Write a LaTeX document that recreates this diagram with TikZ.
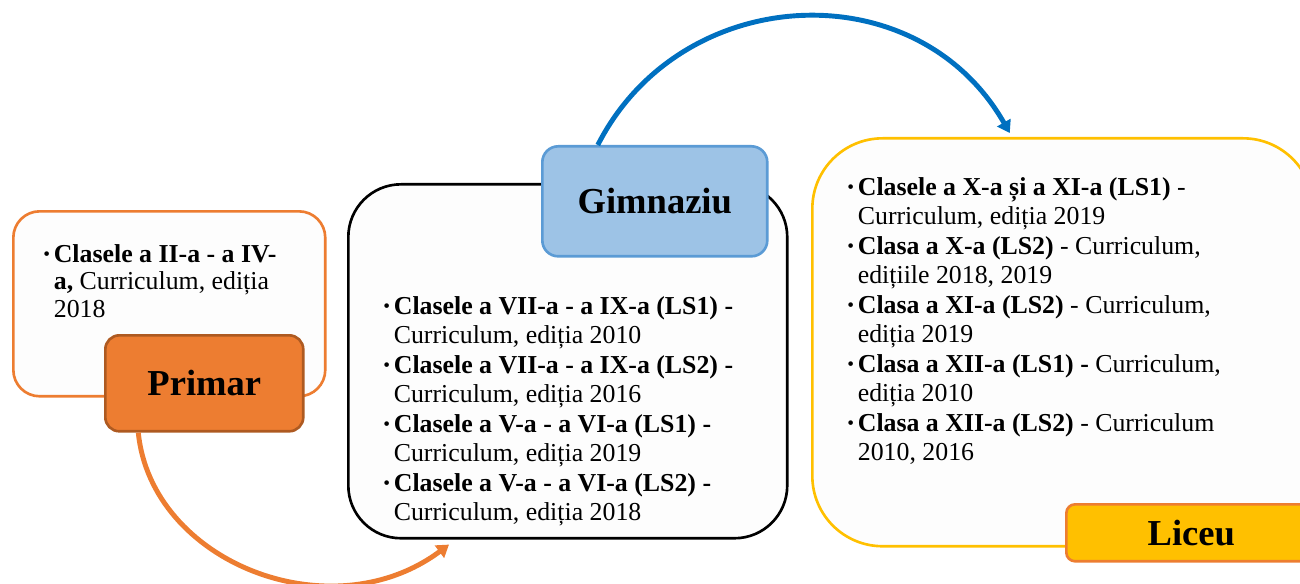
\documentclass[tikz,border=0pt]{standalone}
\usepackage{fontspec}
\setmainfont{Liberation Serif}
\usepackage{tikz}
\usetikzlibrary{arrows.meta, positioning, calc}
\definecolor{primorange}{RGB}{237,125,49}
\definecolor{primdark}{RGB}{174,90,33}
\definecolor{gimblue}{RGB}{157,195,230}
\definecolor{gimedge}{RGB}{91,155,213}
\definecolor{licgold}{RGB}{255,192,0}
\definecolor{arrowblue}{RGB}{0,112,192}
\definecolor{boxfill}{RGB}{253,253,253}
\newcommand{\bul}{\makebox[0.21cm][l]{\raisebox{1pt}{\fontsize{11}{11}\selectfont\textbullet}}}
\newcommand{\ind}{\hspace*{0.21cm}}

\begin{document}
\begin{tikzpicture}[x=0.02cm, y=-0.02cm,
    levelbox/.style={draw, line width=1.5pt, fill=boxfill, anchor=north west, inner sep=0pt},
    levellabel/.style={draw, line width=1.5pt, anchor=north west, inner sep=0pt,
        font=\fontsize{20.8}{24}\selectfont\bfseries},
    itemtext/.style={anchor=north west, inner sep=0pt, align=left},
    flowarrow/.style={line width=2.8pt, -{Triangle[length=0.24cm, width=0.3cm]}}]
    \useasboundingbox (0,0) rectangle (1300,584);

    % Primar
    \node[levelbox, draw=primorange, rounded corners=15pt,
          minimum width=6.24cm, minimum height=3.7cm] (primbox) at (12,210) {};
    \node[itemtext, font=\fontsize{14.7}{15.6}\selectfont] (primtext) at (43,244) {%
        \bul\textbf{Clasele a II-a - a IV-}\\
        \ind\textbf{a,} Curriculum, ediția\\
        \ind 2018};
    \node[levellabel, draw=primdark, fill=primorange, rounded corners=8pt,
          minimum width=3.96cm, minimum height=1.92cm] (primlbl) at (104,334) {Primar};

    % Gimnaziu
    \node[levelbox, draw=black, rounded corners=30pt,
          minimum width=8.78cm, minimum height=7.08cm] (gimbox) at (347,183) {};
    \node[itemtext, font=\fontsize{14.7}{16.8}\selectfont] (gimtext) at (383,296) {%
        \bul\textbf{Clasele a VII-a - a IX-a (LS1) -}\\
        \ind Curriculum, ediția 2010\\
        \bul\textbf{Clasele a VII-a - a IX-a (LS2) -}\\
        \ind Curriculum, ediția 2016\\
        \bul\textbf{Clasele a V-a - a VI-a (LS1) -}\\
        \ind Curriculum, ediția 2019\\
        \bul\textbf{Clasele a V-a - a VI-a (LS2) -}\\
        \ind Curriculum, ediția 2018};
    \node[levellabel, draw=gimedge, fill=gimblue, rounded corners=9pt,
          minimum width=4.5cm, minimum height=2.2cm] (gimlbl) at (541,145) {Gimnaziu};

    % Liceu
    \node[levelbox, draw=licgold, rounded corners=40pt,
          minimum width=10.02cm, minimum height=8.16cm] (licbox) at (811,137) {};
    \node[itemtext, font=\fontsize{14.7}{16.8}\selectfont] (lictext) at (847,177) {%
        \bul\textbf{Clasele a X-a și a XI-a (LS1)} -\\
        \ind Curriculum, ediția 2019\\
        \bul\textbf{Clasa a X-a (LS2)} - Curriculum,\\
        \ind edițiile 2018, 2019\\
        \bul\textbf{Clasa a XI-a (LS2)} - Curriculum,\\
        \ind ediția 2019\\
        \bul\textbf{Clasa a XII-a (LS1) -} Curriculum,\\
        \ind ediția 2010\\
        \bul\textbf{Clasa a XII-a (LS2)} - Curriculum\\
        \ind 2010, 2016};
    \node[levellabel, draw=primorange, fill=licgold, rounded corners=5pt,
          minimum width=5cm, minimum height=1.14cm] (liclbl) at (1065,503) {Liceu};

    % arrows between levels
    \coordinate (orangestart) at ($(primlbl.south)+(-66,0)$);
    \coordinate (orangeend) at ($(gimbox.south west)+(102,5)$);
    \draw[flowarrow, primorange] (orangestart)
        .. controls ($(orangestart)+(13,130)$) and ($(orangeend)+(-118,88)$) .. (orangeend);
    \coordinate (bluestart) at ($(gimlbl.north)+(-57,0)$);
    \coordinate (blueend) at ($(licbox.north)+(-53,-4)$);
    \draw[flowarrow, arrowblue] (bluestart)
        .. controls ($(bluestart)+(83,-163)$) and ($(blueend)+(-93,-163)$) .. (blueend);
\end{tikzpicture}
\end{document}
